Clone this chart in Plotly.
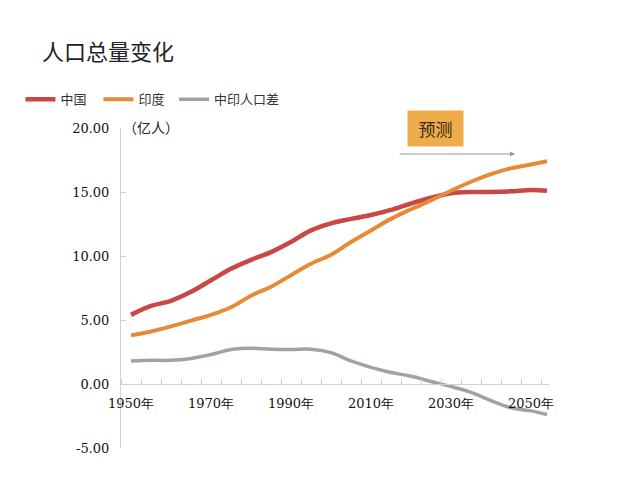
import plotly.graph_objects as go

years = [1950, 1955, 1960, 1965, 1970, 1975, 1980, 1985, 1990, 1995, 2000,
         2005, 2010, 2015, 2020, 2025, 2030, 2035, 2040, 2045, 2050, 2054]
china = [5.4, 6.1, 6.5, 7.2, 8.1, 9.0, 9.7, 10.3, 11.1, 12.0, 12.55,
         12.9, 13.2, 13.6, 14.1, 14.55, 14.9, 15.0, 15.0, 15.05, 15.15, 15.1]
india = [3.8, 4.1, 4.5, 4.95, 5.4, 6.0, 6.9, 7.6, 8.5, 9.4, 10.1,
         11.1, 12.0, 12.9, 13.65, 14.35, 15.1, 15.8, 16.4, 16.85, 17.15, 17.4]
diff = [1.8, 1.85, 1.85, 2.0, 2.3, 2.7, 2.8, 2.72, 2.7, 2.72, 2.45,
        1.8, 1.3, 0.9, 0.6, 0.2, -0.2, -0.65, -1.3, -1.85, -2.1, -2.38]
series_names = ["中国", "印度", "中印人口差"]
label_years = [1950, 1970, 1990, 2010, 2030, 2050]
label_text = [f"{y}年" for y in label_years]
y_ticks = [-5, 0, 5, 10, 15, 20]
y_tick_text = ["-5.00", "0.00", "5.00", "10.00", "15.00", "20.00"]

colors = ["#C94846", "#E68A37", "#A8A0A0"]
widths = [4.5, 4, 3.5]
legends = ["legend", "legend", "legend2"]

CJK = "Noto Sans CJK SC"
NUM = "DejaVu Serif"

fig = go.Figure()
for name, vals, c, w, lg in zip(series_names, [china, india, diff], colors, widths, legends):
    fig.add_trace(go.Scatter(x=years, y=vals, name=name, mode="lines", legend=lg,
                             line=dict(color=c, width=w, shape="spline", smoothing=1.0)))

legend_font = dict(family=CJK, size=13, color="#333")
fig.update_layout(
    width=640, height=500,
    margin=dict(l=109, r=99, t=120, b=60),
    paper_bgcolor="white", plot_bgcolor="white",
    showlegend=True,
    legend=dict(orientation="h", x=-0.235, y=1.09, xanchor="left", yanchor="middle",
                font=legend_font, entrywidth=33, entrywidthmode="pixels",
                bgcolor="rgba(0,0,0,0)"),
    legend2=dict(orientation="h", x=0.124, y=1.09, xanchor="left", yanchor="middle",
                 font=legend_font, bgcolor="rgba(0,0,0,0)"),
    xaxis=dict(range=[1947.5, 2054.5], anchor="free", position=0.2,
               tickmode="array", tickvals=label_years, ticktext=label_text,
               ticks="", showline=True, linecolor="#D0D0D0", linewidth=1,
               showgrid=False, zeroline=False, ticklabelstandoff=7,
               tickfont=dict(family=NUM, size=13, color="#111"),
               minor=dict(tick0=1947.5, dtick=5, ticks="inside", ticklen=5,
                          tickcolor="#D0D0D0", showgrid=False)),
    yaxis=dict(range=[-5, 20], tickmode="array", tickvals=y_ticks, ticktext=y_tick_text,
               showline=True, linecolor="#D0D0D0", linewidth=1,
               ticks="inside", ticklen=5, tickcolor="#D0D0D0",
               showgrid=False, zeroline=False, ticklabelstandoff=8,
               tickfont=dict(family=NUM, size=13, color="#111")),
)

fig.add_annotation(text="人口总量变化", xref="paper", yref="paper",
                   x=-0.19, y=1.244, xanchor="left", yanchor="middle", showarrow=False,
                   font=dict(family=CJK, size=22, color="#222"))
fig.add_annotation(text="（亿人）", xref="paper", yref="paper",
                   x=0.0, y=1.003, xanchor="left", yanchor="middle", showarrow=False,
                   font=dict(family=CJK, size=14, color="#222"))
fig.add_annotation(text="预测", xref="paper", yref="paper",
                   x=0.735, y=0.998, xanchor="center", yanchor="middle", showarrow=False,
                   width=53, height=33, bgcolor="#EFAC4A",
                   font=dict(family=CJK, size=17, color="#3a2a10"))
fig.add_annotation(text="", x=2046, y=17.97, ax=2016.8, ay=17.97, axref="x", ayref="y",
                   showarrow=True, arrowhead=2, arrowsize=1, arrowwidth=1, arrowcolor="#999")

fig.write_html("out.html")
